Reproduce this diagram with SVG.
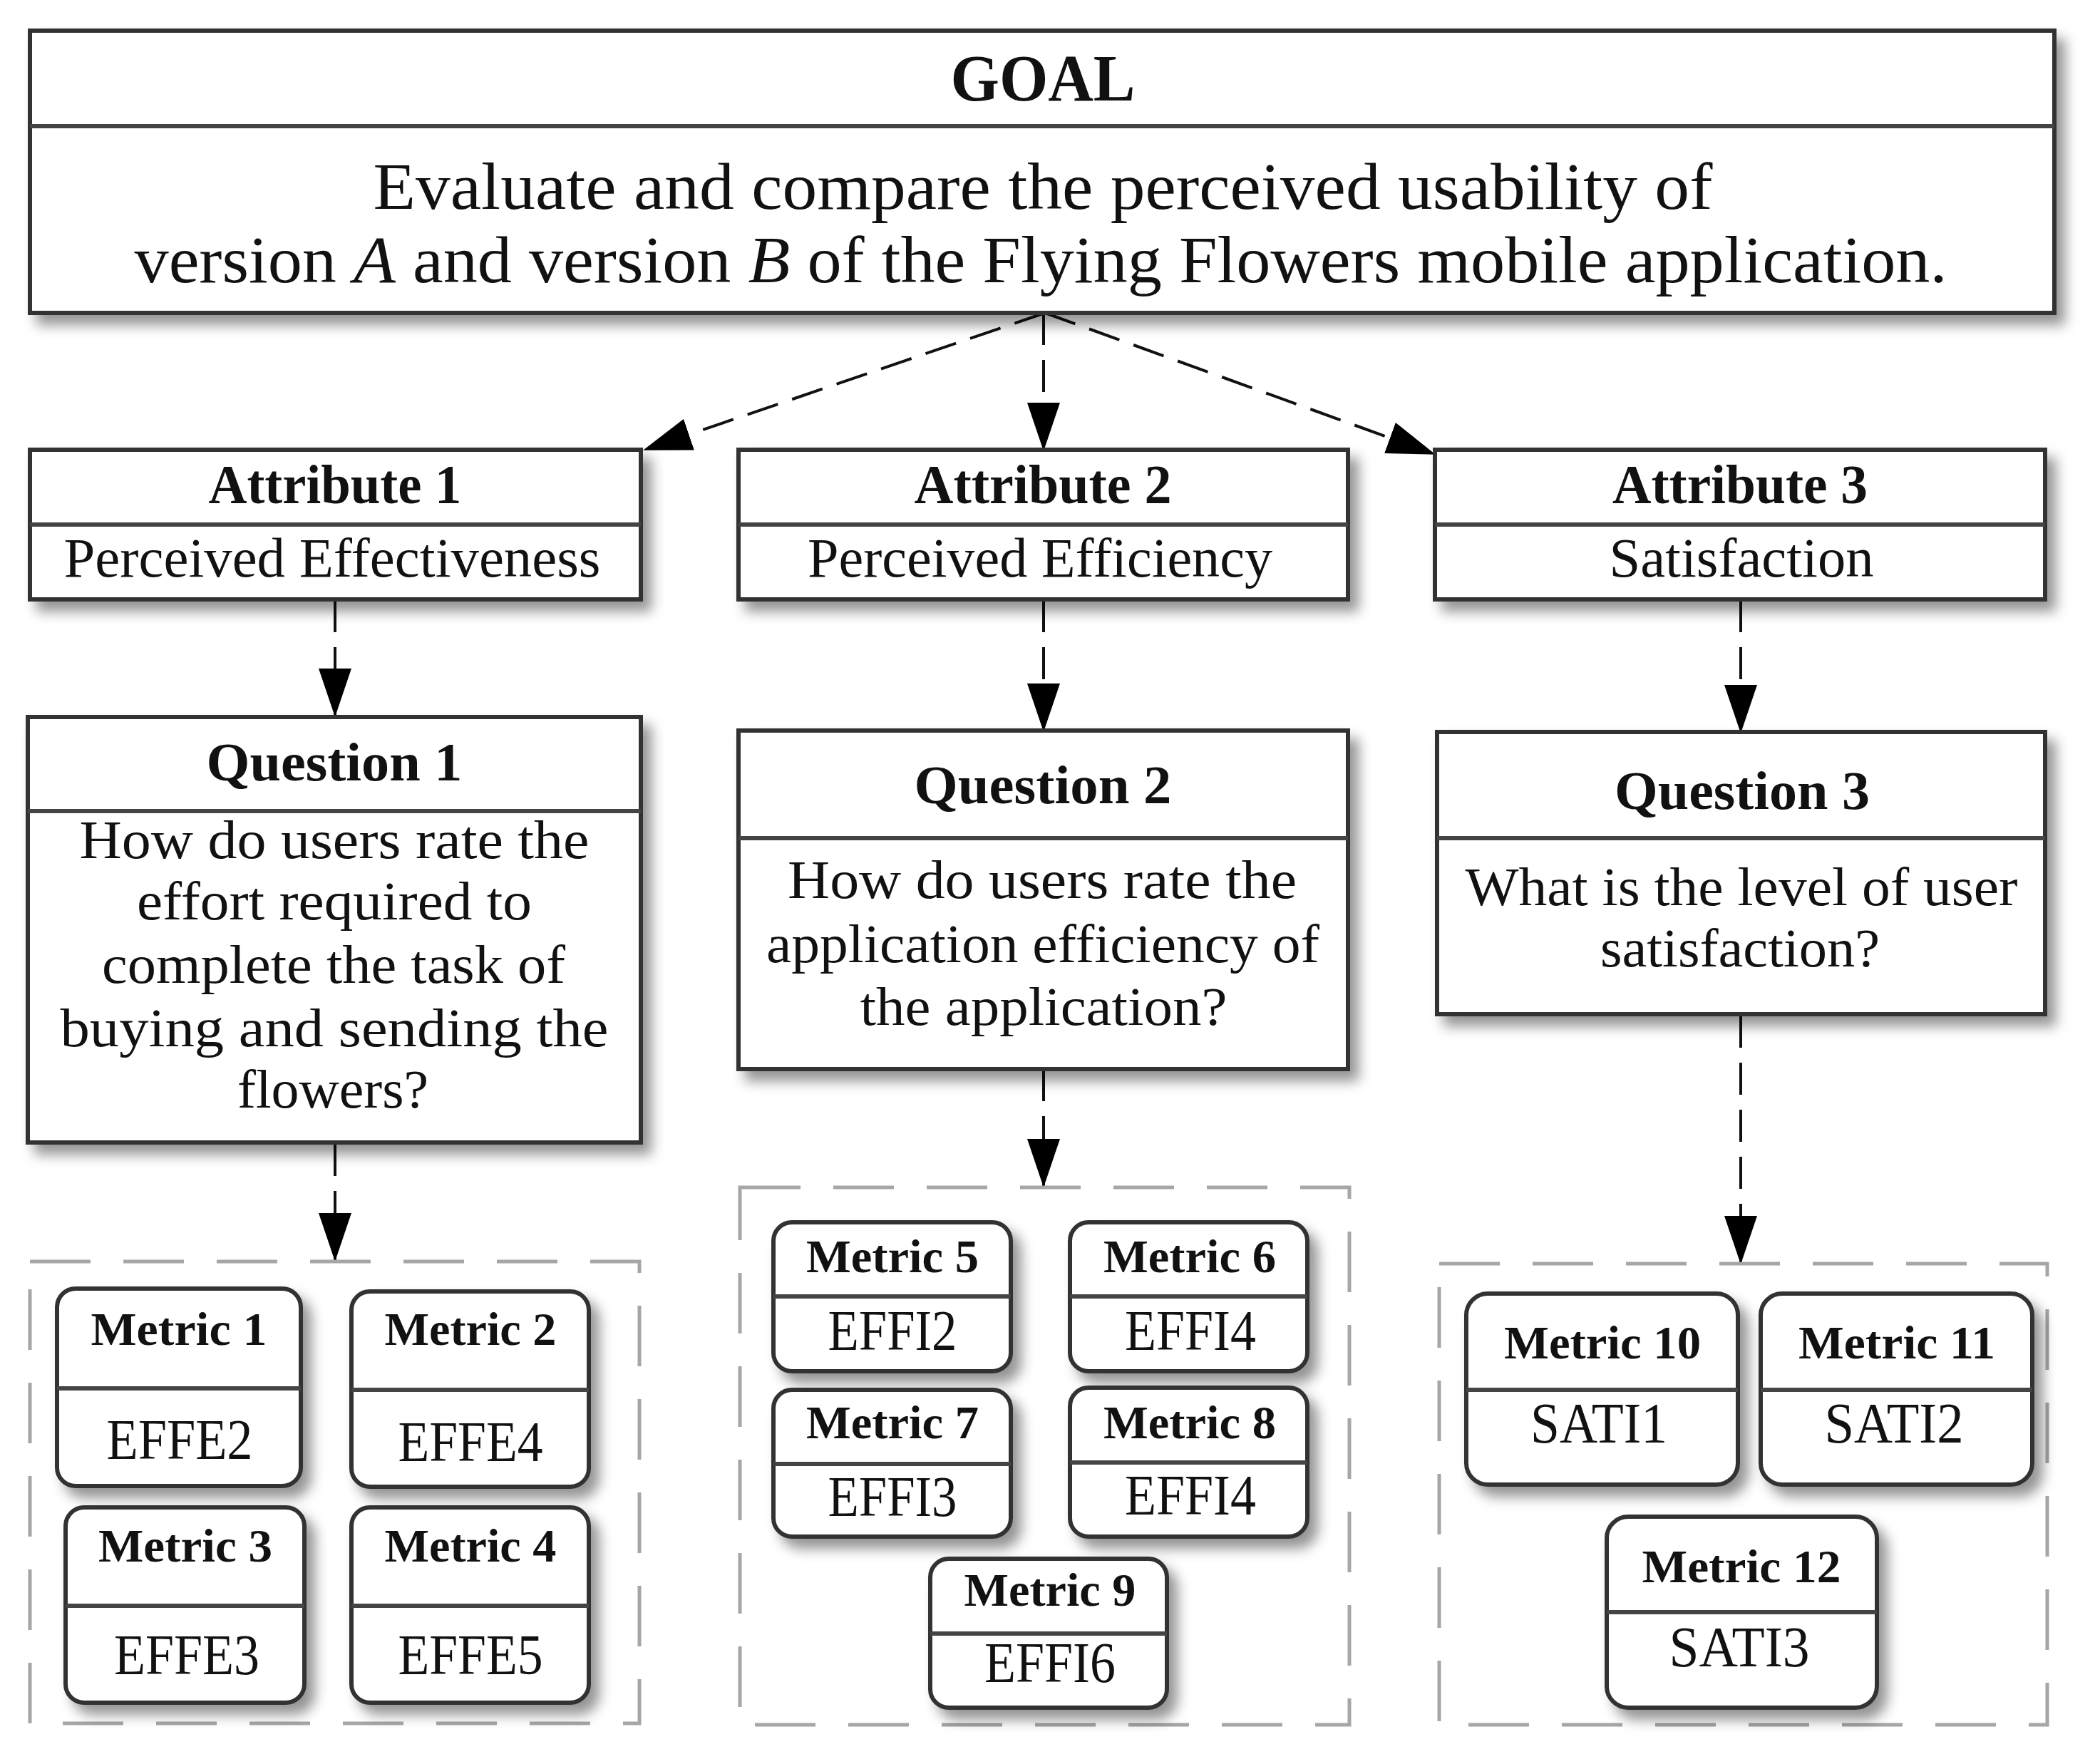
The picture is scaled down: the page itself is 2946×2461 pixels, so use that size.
<svg xmlns="http://www.w3.org/2000/svg" width="2946" height="2461" viewBox="0 0 2946 2461">
<defs>
<filter id="sh" x="-10%" y="-10%" width="130%" height="140%">
<feDropShadow dx="12" dy="14" stdDeviation="9" flood-color="#000" flood-opacity="0.42"/>
</filter>
<marker id="ah" markerUnits="userSpaceOnUse" viewBox="0 0 68 46" markerWidth="68" markerHeight="46" refX="66" refY="23" orient="auto">
<path d="M0,0 L68,23 L0,46 Z" fill="#000"/>
</marker>
</defs>
<style>
.box{fill:#fff;stroke:#333;stroke-width:6;filter:url(#sh)}
.div{stroke:#444;stroke-width:6}
.grp{fill:none;stroke:#a6a6a6;stroke-width:5;stroke-dasharray:85 46}
.con{fill:none;stroke:#111;stroke-width:4;stroke-dasharray:45 21;marker-end:url(#ah)}
text{font-family:"Liberation Serif","Times New Roman",serif;fill:#111;text-anchor:middle}
.b{font-weight:bold}
.g{font-size:94px}
.a{font-size:78px}
.q{font-size:76px}
.mt{font-size:66px;font-weight:bold}
.mv{font-size:80px}
</style>
<rect width="2946" height="2461" fill="#fff"/>

<g id="connectors">
<line class="con" x1="1466" y1="439" x2="904" y2="631"/>
<line class="con" x1="1464" y1="439" x2="1464" y2="631"/>
<line class="con" x1="1466" y1="439" x2="2012" y2="637"/>
<line class="con" x1="470" y1="842" x2="470" y2="1004"/>
<line class="con" x1="1464" y1="842" x2="1464" y2="1025"/>
<line class="con" x1="2442" y1="842" x2="2442" y2="1027"/>
<line class="con" x1="470" y1="1605" x2="470" y2="1768"/>
<line class="con" x1="1464" y1="1500" x2="1464" y2="1664"/>
<line class="con" x1="2442" y1="1425" x2="2442" y2="1772"/>
</g>

<g id="goal">
<rect class="box" x="42" y="43" width="2840" height="396"/>
<line class="div" x1="42" y1="177" x2="2882" y2="177"/>
<text class="g b" x="1463" y="141" textLength="259" lengthAdjust="spacingAndGlyphs">GOAL</text>
<text class="g" x="1463" y="293" textLength="1879" lengthAdjust="spacingAndGlyphs">Evaluate and compare the perceived usability of</text>
<text class="g" x="1460" y="396" textLength="2543" lengthAdjust="spacingAndGlyphs">version <tspan font-style="italic">A</tspan> and version <tspan font-style="italic">B</tspan> of the Flying Flowers mobile application.</text>
</g>

<g id="attribute1">
<rect class="box" x="42" y="631" width="857" height="210"/>
<line class="div" x1="42" y1="736" x2="899" y2="736"/>
<text class="a b" x="470" y="706" textLength="355" lengthAdjust="spacingAndGlyphs">Attribute 1</text>
<text class="a" x="466" y="809" textLength="753" lengthAdjust="spacingAndGlyphs">Perceived Effectiveness</text>
</g>
<g id="attribute2">
<rect class="box" x="1036" y="631" width="855" height="210"/>
<line class="div" x1="1036" y1="736" x2="1891" y2="736"/>
<text class="a b" x="1463" y="706" textLength="361" lengthAdjust="spacingAndGlyphs">Attribute 2</text>
<text class="a" x="1459" y="809" textLength="652" lengthAdjust="spacingAndGlyphs">Perceived Efficiency</text>
</g>
<g id="attribute3">
<rect class="box" x="2013" y="631" width="856" height="210"/>
<line class="div" x1="2013" y1="736" x2="2869" y2="736"/>
<text class="a b" x="2441" y="706" textLength="358" lengthAdjust="spacingAndGlyphs">Attribute 3</text>
<text class="a" x="2443" y="809" textLength="371" lengthAdjust="spacingAndGlyphs">Satisfaction</text>
</g>

<g id="question1">
<rect class="box" x="39" y="1006" width="860" height="597"/>
<line class="div" x1="39" y1="1138" x2="899" y2="1138"/>
<text class="q b" x="469" y="1095" textLength="359" lengthAdjust="spacingAndGlyphs">Question 1</text>
<text class="q" x="469" y="1204" textLength="715" lengthAdjust="spacingAndGlyphs">How do users rate the</text>
<text class="q" x="469" y="1290" textLength="554" lengthAdjust="spacingAndGlyphs">effort required to</text>
<text class="q" x="468" y="1379" textLength="650" lengthAdjust="spacingAndGlyphs">complete the task of</text>
<text class="q" x="469" y="1468" textLength="769" lengthAdjust="spacingAndGlyphs">buying and sending the</text>
<text class="q" x="467" y="1554" textLength="268" lengthAdjust="spacingAndGlyphs">flowers?</text>
</g>
<g id="question2">
<rect class="box" x="1036" y="1025" width="855" height="475"/>
<line class="div" x1="1036" y1="1176" x2="1891" y2="1176"/>
<text class="q b" x="1463" y="1127" textLength="361" lengthAdjust="spacingAndGlyphs">Question 2</text>
<text class="q" x="1462" y="1260" textLength="714" lengthAdjust="spacingAndGlyphs">How do users rate the</text>
<text class="q" x="1463" y="1350" textLength="776" lengthAdjust="spacingAndGlyphs">application efficiency of</text>
<text class="q" x="1464" y="1438" textLength="515" lengthAdjust="spacingAndGlyphs">the application?</text>
</g>
<g id="question3">
<rect class="box" x="2016" y="1027" width="853" height="396"/>
<line class="div" x1="2016" y1="1176" x2="2869" y2="1176"/>
<text class="q b" x="2444" y="1135" textLength="358" lengthAdjust="spacingAndGlyphs">Question 3</text>
<text class="q" x="2443" y="1270" textLength="775" lengthAdjust="spacingAndGlyphs">What is the level of user</text>
<text class="q" x="2441" y="1356" textLength="392" lengthAdjust="spacingAndGlyphs">satisfaction?</text>
</g>

<g id="metrics-group1">
<rect class="grp" x="42" y="1770" width="855" height="648"/>
</g>
<g id="metrics-group2">
<rect class="grp" x="1038" y="1666" width="855" height="754"/>
</g>
<g id="metrics-group3">
<rect class="grp" x="2019" y="1773" width="853" height="647"/>
</g>

<g id="metric1">
<rect class="box" x="80" y="1808" width="342" height="277" rx="26"/>
<line class="div" x1="80" y1="1948" x2="422" y2="1948"/>
<text class="mt" x="251" y="1887" textLength="247" lengthAdjust="spacingAndGlyphs">Metric 1</text>
<text class="mv" x="252" y="2047" textLength="205" lengthAdjust="spacingAndGlyphs">EFFE2</text>
</g>
<g id="metric2">
<rect class="box" x="493" y="1812" width="333" height="274" rx="26"/>
<line class="div" x1="493" y1="1950" x2="826" y2="1950"/>
<text class="mt" x="660" y="1887" textLength="241" lengthAdjust="spacingAndGlyphs">Metric 2</text>
<text class="mv" x="660" y="2050" textLength="203" lengthAdjust="spacingAndGlyphs">EFFE4</text>
</g>
<g id="metric3">
<rect class="box" x="92" y="2115" width="335" height="274" rx="26"/>
<line class="div" x1="92" y1="2253" x2="427" y2="2253"/>
<text class="mt" x="260" y="2191" textLength="244" lengthAdjust="spacingAndGlyphs">Metric 3</text>
<text class="mv" x="262" y="2349" textLength="204" lengthAdjust="spacingAndGlyphs">EFFE3</text>
</g>
<g id="metric4">
<rect class="box" x="493" y="2115" width="333" height="274" rx="26"/>
<line class="div" x1="493" y1="2253" x2="826" y2="2253"/>
<text class="mt" x="660" y="2191" textLength="241" lengthAdjust="spacingAndGlyphs">Metric 4</text>
<text class="mv" x="660" y="2349" textLength="203" lengthAdjust="spacingAndGlyphs">EFFE5</text>
</g>

<g id="metric5">
<rect class="box" x="1085" y="1715" width="333" height="209" rx="26"/>
<line class="div" x1="1085" y1="1819" x2="1418" y2="1819"/>
<text class="mt" x="1252" y="1785" textLength="242" lengthAdjust="spacingAndGlyphs">Metric 5</text>
<text class="mv" x="1252" y="1894" textLength="181" lengthAdjust="spacingAndGlyphs">EFFI2</text>
</g>
<g id="metric6">
<rect class="box" x="1501" y="1715" width="333" height="209" rx="26"/>
<line class="div" x1="1501" y1="1819" x2="1834" y2="1819"/>
<text class="mt" x="1669" y="1785" textLength="242" lengthAdjust="spacingAndGlyphs">Metric 6</text>
<text class="mv" x="1670" y="1894" textLength="184" lengthAdjust="spacingAndGlyphs">EFFI4</text>
</g>
<g id="metric7">
<rect class="box" x="1085" y="1950" width="333" height="206" rx="26"/>
<line class="div" x1="1085" y1="2054" x2="1418" y2="2054"/>
<text class="mt" x="1252" y="2018" textLength="242" lengthAdjust="spacingAndGlyphs">Metric 7</text>
<text class="mv" x="1252" y="2127" textLength="181" lengthAdjust="spacingAndGlyphs">EFFI3</text>
</g>
<g id="metric8">
<rect class="box" x="1501" y="1947" width="333" height="209" rx="26"/>
<line class="div" x1="1501" y1="2052" x2="1834" y2="2052"/>
<text class="mt" x="1669" y="2018" textLength="242" lengthAdjust="spacingAndGlyphs">Metric 8</text>
<text class="mv" x="1670" y="2125" textLength="184" lengthAdjust="spacingAndGlyphs">EFFI4</text>
</g>
<g id="metric9">
<rect class="box" x="1305" y="2187" width="332" height="209" rx="26"/>
<line class="div" x1="1305" y1="2292" x2="1637" y2="2292"/>
<text class="mt" x="1473" y="2253" textLength="241" lengthAdjust="spacingAndGlyphs">Metric 9</text>
<text class="mv" x="1473" y="2360" textLength="184" lengthAdjust="spacingAndGlyphs">EFFI6</text>
</g>

<g id="metric10">
<rect class="box" x="2057" y="1815" width="381" height="268" rx="30"/>
<line class="div" x1="2057" y1="1950" x2="2438" y2="1950"/>
<text class="mt" x="2248" y="1906" textLength="276" lengthAdjust="spacingAndGlyphs">Metric 10</text>
<text class="mv" x="2243" y="2024" textLength="192" lengthAdjust="spacingAndGlyphs">SATI1</text>
</g>
<g id="metric11">
<rect class="box" x="2470" y="1815" width="381" height="268" rx="30"/>
<line class="div" x1="2470" y1="1950" x2="2851" y2="1950"/>
<text class="mt" x="2661" y="1906" textLength="276" lengthAdjust="spacingAndGlyphs">Metric 11</text>
<text class="mv" x="2657" y="2024" textLength="195" lengthAdjust="spacingAndGlyphs">SATI2</text>
</g>
<g id="metric12">
<rect class="box" x="2254" y="2128" width="379" height="268" rx="30"/>
<line class="div" x1="2254" y1="2262" x2="2633" y2="2262"/>
<text class="mt" x="2443" y="2220" textLength="279" lengthAdjust="spacingAndGlyphs">Metric 12</text>
<text class="mv" x="2440" y="2338" textLength="197" lengthAdjust="spacingAndGlyphs">SATI3</text>
</g>
</svg>
